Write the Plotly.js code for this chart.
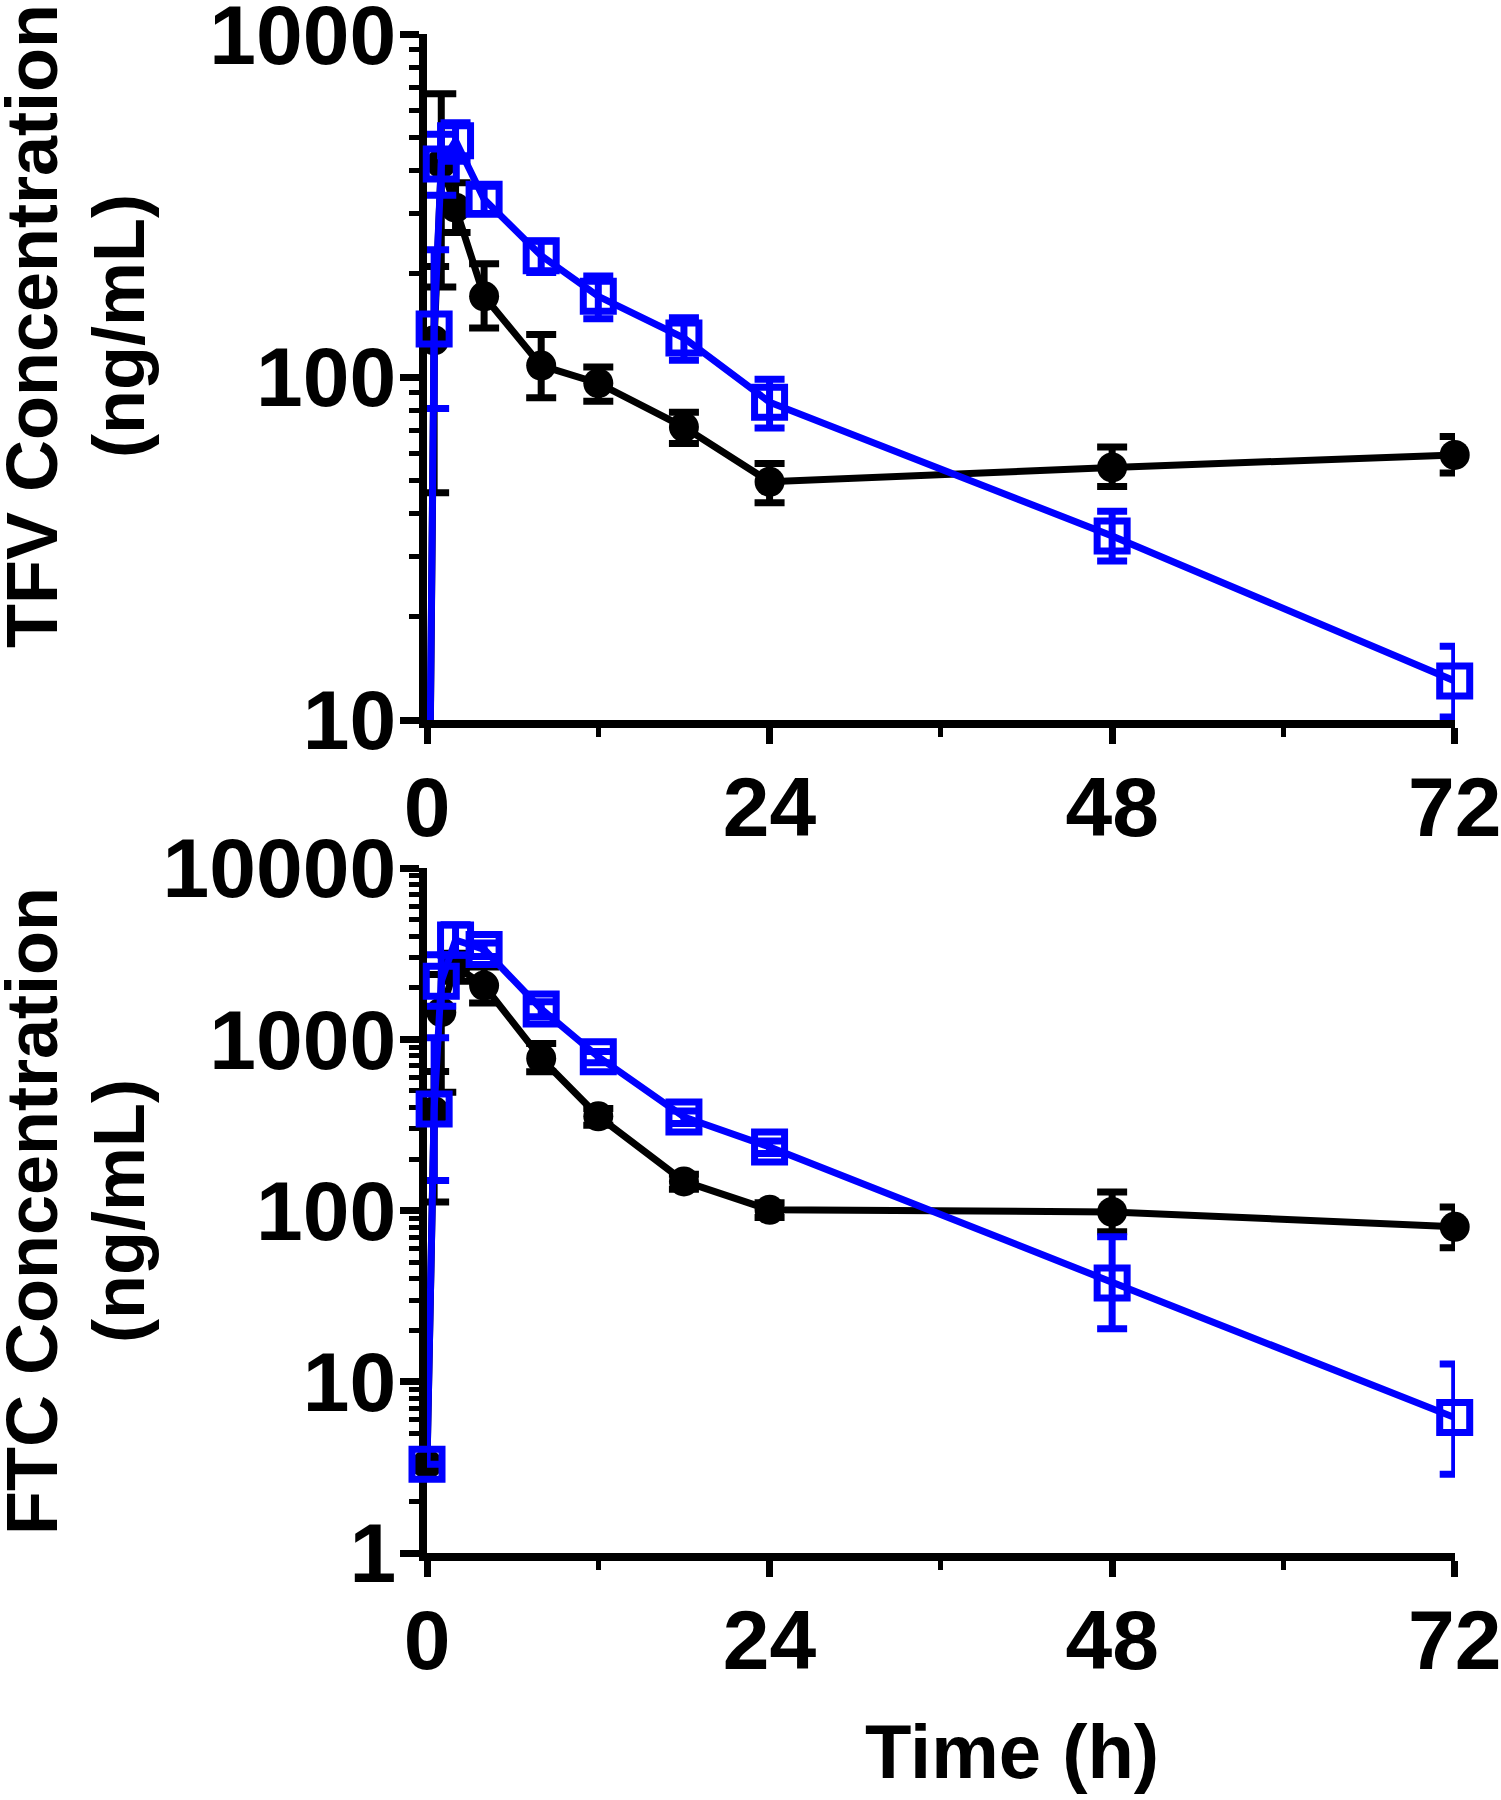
<!DOCTYPE html>
<html>
<head>
<meta charset="utf-8">
<script src="https://cdn.plot.ly/plotly-3.0.1.min.js"></script>
<style>
  html, body { margin: 0; padding: 0; background: #ffffff; }
  #chart { width: 1501px; height: 1800px; }
</style>
</head>
<body>
<div id="chart"></div>
<script>
// ---------------- data ----------------
const timeH = [0, 0.5, 1, 2, 4, 8, 12, 18, 24, 48, 72];

// TFV (top panel), ng/mL. t=0 is below the axis floor (10) and not drawn.
const tfvBlackMean  = [1, 128, 420, 312, 172, 108, 96, 71.5, 49.5, 54.5, 59.3];
const tfvBlackPlus  = [0, 82, 250, 57, 42, 25, 11, 7.5, 6.5, 8, 7.8];
const tfvBlackMinus = [0, 82, 237, 48, 33, 21, 11, 7.5, 6.5, 6.5, 6.8];

const tfvBlueMean   = [1, 138, 418, 489, 330, 226, 172, 130, 84.5, 34.4, 13.0];
const tfvBluePlus   = [0, 97, 93, 63, 30, 23, 25, 19, 14, 6.2, 3.4];
const tfvBlueMinus  = [0, 57, 79, 63, 30, 24, 24, 18, 13.5, 5.3, 2.8];

// FTC (bottom panel), ng/mL
const ftcBlackMean  = [3.3, 380, 1440, 2680, 2060, 773, 355, 148, 101, 98.2, 80.4];
const ftcBlackPlus  = [0, 268, 950, 500, 583, 171, 40, 15, 10, 30, 24.6];
const ftcBlackMinus = [0, 268, 950, 500, 428, 127, 40, 15, 10, 23, 19.7];

const ftcBlueMean   = [3.3, 392, 2180, 3800, 3350, 1505, 790, 352, 235, 37.7, 6.18];
const ftcBluePlus   = [0, 630, 940, 866, 300, 150, 60, 30, 20, 32.6, 6.5];
const ftcBlueMinus  = [0, 242, 620, 700, 300, 150, 60, 30, 20, 17.3, 3.3];

// tick labels and titles
const xTickVals = [0, 24, 48, 72];
const xTickText = ['0', '24', '48', '72'];
const xMinorVals = [12, 36, 60];
const topYTickVals = [10, 100, 1000];
const topYTickText = ['10', '100', '1000'];
const botYTickVals = [1, 10, 100, 1000, 10000];
const botYTickText = ['1', '10', '100', '1000', '10000'];
const topTitleLines = ['TFV Concentration', '(ng/mL)'];
const botTitleLines = ['FTC Concentration', '(ng/mL)'];
const xTitle = 'Time (h)';

// ---------------- styling ----------------
const W = 1501, H = 1800;
const FONT = 'Liberation Sans, Arial, sans-serif';
const BLACK = '#000000';
const BLUE = '#0000ff';

function blackTrace(y, plus, minus, xa, ya) {
  return {
    type: 'scatter', mode: 'lines+markers', x: timeH, y: y,
    xaxis: xa, yaxis: ya, cliponaxis: false, showlegend: false,
    line: { color: BLACK, width: 7 },
    marker: { symbol: 'circle', size: 30, color: BLACK },
    error_y: { type: 'data', symmetric: false, array: plus, arrayminus: minus,
               color: BLACK, thickness: 7, width: 15 }
  };
}
function blueTrace(y, plus, minus, xa, ya) {
  return {
    type: 'scatter', mode: 'lines+markers', x: timeH, y: y,
    xaxis: xa, yaxis: ya, cliponaxis: false, showlegend: false,
    line: { color: BLUE, width: 7 },
    marker: { symbol: 'square-open', size: 30, color: BLUE, line: { width: 7, color: BLUE } },
    error_y: { type: 'data', symmetric: false, array: plus, arrayminus: minus,
               color: BLUE, thickness: 7, width: 15 }
  };
}

const traces = [
  blackTrace(tfvBlackMean, tfvBlackPlus, tfvBlackMinus, 'x', 'y'),
  blueTrace(tfvBlueMean, tfvBluePlus, tfvBlueMinus, 'x', 'y'),
  blackTrace(ftcBlackMean, ftcBlackPlus, ftcBlackMinus, 'x2', 'y2'),
  blueTrace(ftcBlueMean, ftcBluePlus, ftcBlueMinus, 'x2', 'y2')
];

const xDomain = [427 / W, 1455 / W];
const tickFont = { family: FONT, size: 84, color: BLACK, weight: 'bold' };
const titleFont = { family: FONT, size: 72, color: BLACK, weight: 'bold' };

function xAxis(anchor) {
  return {
    domain: xDomain, anchor: anchor, range: [0, 72.02], type: 'linear',
    showline: true, linewidth: 8, linecolor: BLACK, mirror: false,
    showgrid: false, zeroline: false, layer: 'below traces',
    ticks: 'outside', ticklen: 16, tickwidth: 7, tickcolor: BLACK,
    tickmode: 'array', tickvals: xTickVals, ticktext: xTickText,
    tickfont: tickFont, ticklabelstandoff: -9, ticklabeloverflow: 'allow',
    minor: { tickmode: 'array', tickvals: xMinorVals, ticks: 'outside',
             ticklen: 9, tickwidth: 5, tickcolor: BLACK, showgrid: false },
    automargin: false, fixedrange: true
  };
}
function yAxis(anchor, domain, range, vals, text) {
  return {
    domain: domain, anchor: anchor, type: 'log', range: range,
    showline: true, linewidth: 8, linecolor: BLACK,
    showgrid: false, zeroline: false, layer: 'below traces',
    ticks: 'outside', ticklen: 19, tickwidth: 7, tickcolor: BLACK,
    tickmode: 'array', tickvals: vals, ticktext: text,
    tickfont: tickFont, ticklabelstandoff: -13, ticklabeloverflow: 'allow',
    minor: { dtick: 'D1', ticks: 'outside', ticklen: 10, tickwidth: 5,
             tickcolor: BLACK, showgrid: false },
    automargin: false, fixedrange: true
  };
}

function px(x) { return x / W; }
function py(y) { return 1 - y / H; }

const annotations = [
  { text: topTitleLines[0], x: px(32), y: py(326) },
  { text: topTitleLines[1], x: px(119), y: py(326) },
  { text: botTitleLines[0], x: px(32), y: py(1211) },
  { text: botTitleLines[1], x: px(119), y: py(1211) }
].map(a => Object.assign(a, {
  xref: 'paper', yref: 'paper', xanchor: 'center', yanchor: 'middle',
  textangle: -90, showarrow: false, font: titleFont
}));
annotations.push({
  text: xTitle, x: px(1012), y: py(1751), xref: 'paper', yref: 'paper',
  xanchor: 'center', yanchor: 'middle', showarrow: false,
  font: { family: FONT, size: 76, color: BLACK, weight: 'bold' }
});

const layout = {
  width: W, height: H,
  margin: { l: 0, r: 0, t: 0, b: 0, pad: 0 },
  paper_bgcolor: '#ffffff', plot_bgcolor: '#ffffff',
  showlegend: false,
  xaxis: xAxis('y'),
  yaxis: yAxis('x', [py(720), py(34)], [1, 3.0005], topYTickVals, topYTickText),
  xaxis2: xAxis('y2'),
  yaxis2: yAxis('x2', [py(1553), py(868)], [0, 4.0005], botYTickVals, botYTickText),
  annotations: annotations
};

Plotly.newPlot('chart', traces, layout, { staticPlot: true, displayModeBar: false });
</script>
</body>
</html>
